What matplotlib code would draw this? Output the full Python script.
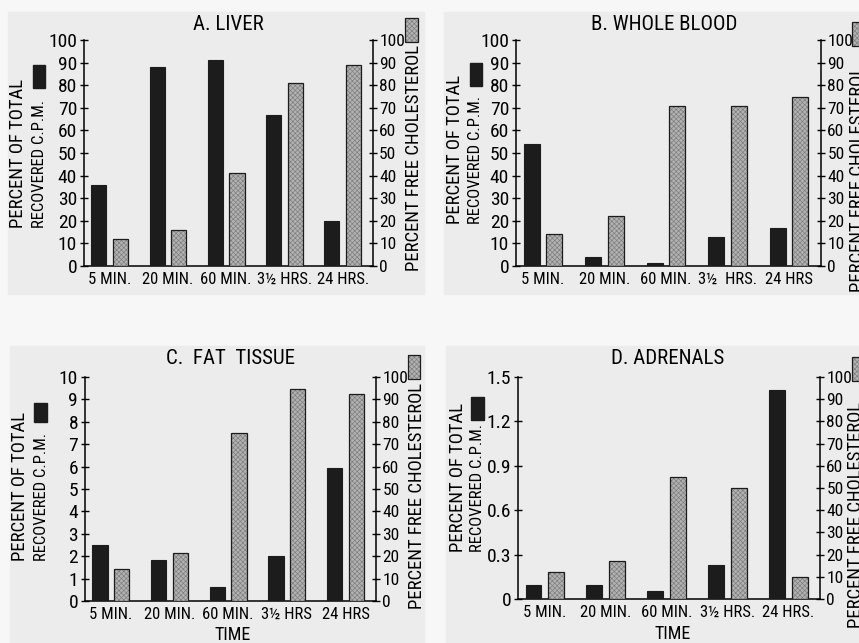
import matplotlib
matplotlib.use("Agg")
import matplotlib.pyplot as plt
from matplotlib import font_manager
from matplotlib.patches import Rectangle

# police étroite si disponible
_names = {f.name for f in font_manager.fontManager.ttflist}
FONT = "DejaVu Sans"
for cand in ["Liberation Sans Narrow", "DejaVu Sans Condensed", "Roboto Condensed"]:
    if cand in _names:
        FONT = cand
        break
plt.rcParams["font.family"] = [FONT, "DejaVu Sans"]

# Données
times_a = ["5 MIN.", "20 MIN.", "60 MIN.", "3½ HRS.", "24 HRS."]
times_b = ["5 MIN.", "20 MIN.", "60 MIN.", "3½  HRS.", "24 HRS"]
times_c = ["5 MIN.", "20 MIN.", "60 MIN.", "3½ HRS", "24 HRS"]
times_d = ["5 MIN.", "20 MIN.", "60 MIN.", "3½ HRS.", "24 HRS."]

liver_cpm = [36, 88, 91, 67, 20]
liver_free = [12, 16, 41, 81, 89]
blood_cpm = [54, 4, 1.5, 13, 17]
blood_free = [14, 22, 71, 71, 75]
fat_cpm = [2.5, 1.85, 0.62, 2.0, 5.95]
fat_free = [14.5, 21.5, 75, 94.5, 92.5]
adrenal_cpm = [0.092, 0.095, 0.056, 0.23, 1.41]
adrenal_free = [12, 17, 55, 50, 10]

left_ticks_ac = list(range(0, 101, 10))
left_ticks_c = list(range(0, 11))
left_ticks_d = [0, 0.3, 0.6, 0.9, 1.2, 1.5]
left_labels_d = ["0", "0.3", "0.6", "0.9", "1.2", "1.5"]
right_ticks = list(range(0, 101, 10))

W, H = 859, 643
fig = plt.figure(figsize=(W / 100, H / 100), dpi=100, facecolor="#f7f7f7")


def px(x0, y0, x1, y1):
    return [x0 / W, 1 - y1 / H, (x1 - x0) / W, (y1 - y0) / H]


# fond "papier" des quatre panneaux
for (x0, y0, x1, y1) in [(8, 12, 424, 294), (444, 12, 859, 294),
                         (10, 346, 424, 643), (446, 346, 859, 643)]:
    fig.patches.append(Rectangle((x0 / W, 1 - y1 / H), (x1 - x0) / W, (y1 - y0) / H,
                                 transform=fig.transFigure, color="#ececec", zorder=-5))

BLACK = "#1c1c1c"
GREY = "#b2b2b2"
HATCH = "#7c7c7c"
plt.rcParams["hatch.linewidth"] = 0.45


def panel(rect, labels, cpm, free, lticks, lmax, llabels=None):
    ax = fig.add_axes(rect)
    ax.set_facecolor("none")
    x = list(range(len(labels)))
    xb = [i - 0.185 for i in x]
    xg = [i + 0.185 for i in x]
    ax.bar(xb, cpm, width=0.26, color=BLACK, edgecolor=BLACK, linewidth=0.8, zorder=3)
    ax.set_xlim(-0.44, 4.52)
    ax.set_ylim(0, lmax)
    ax.set_yticks(lticks)
    if llabels is not None:
        ax.set_yticklabels(llabels)
    ax.set_xticks(x)
    ax.set_xticklabels(labels)
    ax.tick_params(axis="x", length=0, pad=4, labelsize=12)
    ax.tick_params(axis="y", direction="inout", length=6, width=1, pad=2, labelsize=14)
    ax.spines["top"].set_visible(False)
    ax.spines["right"].set_visible(False)
    for s in ["left", "bottom"]:
        ax.spines[s].set_linewidth(1.1)

    ax2 = ax.twinx()
    ax2.bar(xg, free, width=0.26, color=GREY, edgecolor=HATCH, hatch="xxxxxxx",
            linewidth=0, zorder=3)
    ax2.bar(xg, free, width=0.26, fill=False, edgecolor=BLACK, linewidth=0.9, zorder=4)
    ax2.set_ylim(0, 100)
    ax2.set_yticks(right_ticks)
    ax2.tick_params(axis="y", direction="inout", length=6, width=1, pad=1.5, labelsize=12.5)
    for s in ["top", "left", "bottom"]:
        ax2.spines[s].set_visible(False)
    ax2.spines["right"].set_linewidth(1.1)
    return ax


def legend_box(x0, y0, x1, y1, hatched=False):
    r = ((x0 / W, 1 - y1 / H), (x1 - x0) / W, (y1 - y0) / H)
    if hatched:
        fig.patches.append(Rectangle(*r, transform=fig.transFigure, facecolor=GREY,
                                     edgecolor=HATCH, hatch="xxxxxxx", linewidth=0, zorder=3))
        fig.patches.append(Rectangle(*r, transform=fig.transFigure, fill=False,
                                     edgecolor=BLACK, linewidth=0.9, zorder=4))
    else:
        fig.patches.append(Rectangle(*r, transform=fig.transFigure, color=BLACK, zorder=3))


def ftext(x, y, s, **kw):
    fig.text(x / W, 1 - y / H, s, **kw)


panel(px(84, 40, 373, 266), times_a, liver_cpm, liver_free, left_ticks_ac, 100)
panel(px(516, 40, 821, 266), times_b, blood_cpm, blood_free, left_ticks_ac, 100)
panel(px(85, 377, 376, 601), times_c, fat_cpm, fat_free, left_ticks_c, 10)
panel(px(518, 377, 820, 599), times_d, adrenal_cpm, adrenal_free,
      left_ticks_d, 1.5, left_labels_d)

# titres
tkw = dict(ha="center", va="center", fontsize=15)
ftext(228, 25, "A. LIVER", **tkw)
ftext(664, 25, "B. WHOLE BLOOD", **tkw)
ftext(231, 358, "C.  FAT  TISSUE", **tkw)
ftext(668, 358, "D. ADRENALS", **tkw)
ftext(233, 635, "TIME", ha="center", va="center", fontsize=13)
ftext(673, 634, "TIME", ha="center", va="center", fontsize=13)

# étiquettes d'axes gauche (deux lignes)
for (x1, x2, yb) in [(18, 40, 228), (455, 476, 224), (20, 42, 561), (458, 478, 552)]:
    ftext(x1, yb, "PERCENT OF TOTAL", rotation=90, ha="center", va="bottom", fontsize=13.5)
    ftext(x2, yb, "RECOVERED C.P.M.", rotation=90, ha="center", va="bottom", fontsize=12)

# étiquettes d'axes droite
rkw = dict(rotation=90, ha="center", va="bottom", fontsize=13.5)
ftext(414, 271, "PERCENT FREE CHOLESTEROL", **rkw)
ftext(858, 292, "PERCENT FREE CHOLESTEROL", **rkw)
ftext(417, 609, "PERCENT FREE CHOLESTEROL", **rkw)
ftext(856, 628, "PERCENT FREE CHOLESTEROL", **rkw)

# petits carrés de légende
legend_box(33, 65, 45, 88)
legend_box(470, 63, 482, 86)
legend_box(34, 403, 47, 422)
legend_box(471, 397, 484, 420)
legend_box(405, 18, 418, 42, hatched=True)
legend_box(852, 22, 866, 46, hatched=True)
legend_box(408, 355, 420, 379, hatched=True)
legend_box(852, 357, 866, 381, hatched=True)

fig.savefig("out.png", dpi=100, facecolor=fig.get_facecolor())
